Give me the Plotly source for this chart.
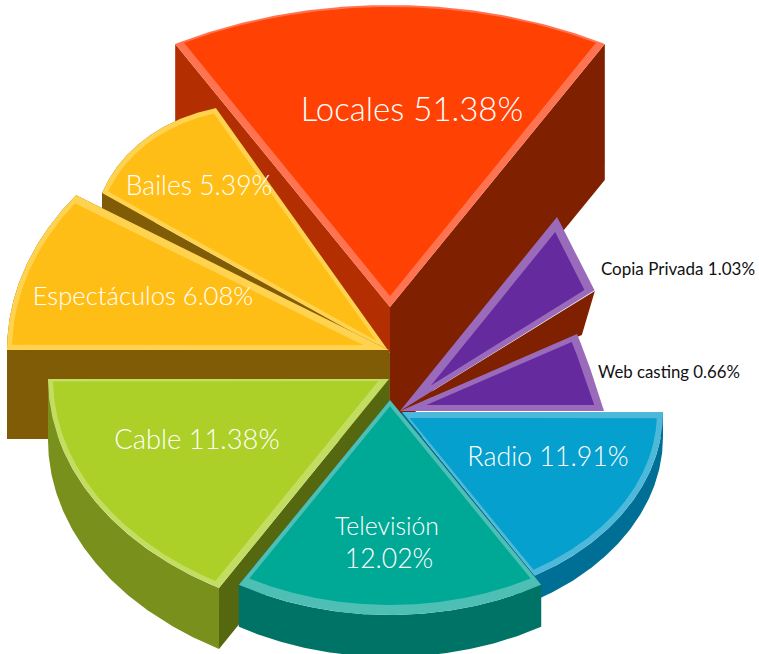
import math
import plotly.graph_objects as go

# ---- chart data ----
categories = ["Locales", "Copia Privada", "Web casting", "Bailes", "Espectáculos",
              "Cable", "Radio", "Televisión"]
shares = [51.38, 1.03, 0.66, 5.39, 6.08, 11.38, 11.91, 12.02]

# ---- the drawing's own wedge layout (the artwork is not drawn to scale, so
#      sweep angles are read from the picture rather than derived from shares) ----
apex_x = [390, 400, 400, 390, 389, 389, 402, 390]
apex_y = [307, 411, 411, 353, 350, 379, 412, 400]
radius_x = [437, 215, 204, 349.4, 382, 341, 261, 296]
radius_y = [302, 284, 155, 282.5, 270, 241, 190, 215]
angle_start = [60.56, 25.0, 0.0, 119.9, 145.0, 180.0, -59.4, 239.3]
angle_end = [119.44, 43.1, 29.8, 145.5, 180.0, 240.1, 0.0, 300.7]
arc_bulge = [1.0, 0.15, 0.15, 2.3, 1.0, 1.0, 1.0, 1.0]
depth = [136, 0, 0, 90, 89, 61, 25, 42]
# inset of the pale rim: edge at angle_start, edge at angle_end, arc
rim_start = [7, 5.5, 6, 4, 7, 2, 2, 4]
rim_end = [7, 8, 5, 4, 5, 7, 6, 4]
rim_arc = [2, 9, 8, 5, 5, 5, 6, 10]

top_colors = ["#FF4103", "#662A9F", "#662A9F", "#FFBE16", "#FFBE16", "#ACD027", "#05A0CD", "#00A896"]
rim_colors = ["#FF7350", "#9A6BBB", "#9A6BBB", "#FFD24F", "#FFD24F", "#C3DD62", "#4DB8DA", "#4DBFB4"]
side_start = ["#7F2000", None, None, "#7F5C05", "#7F5C05", "#7F5C05", "#006F95", "#007367"]
side_end = ["#B32E00", None, None, "#7F5C05", "#7F5C05", "#55680F", "#006F95", "#007367"]
side_arc = [None, None, None, "#7F5C05", "#7F5C05", "#7A901C", "#006F95", "#007367"]

label_x = [412, 678, 669, 199, 143, 197, 548, 387]
label_y = [113, 271, 374, 188, 299, 442, 459, 529]
label_size = [33, 17, 16.8, 26.5, 25.6, 27.3, 26.8, 26.5]
label_weight = [300, 400, 400, 300, 300, 300, 300, 300]
label_color = ["white", "#111111", "#111111", "white", "white", "white", "white", "white"]
two_line_label = "Televisión"
two_line_gap = 32
two_line_name_size = 24.8
FONT = "Lato"
PURPLE_BACK = "#7F2000"

fig = go.Figure()


def add_poly(xs, ys, color):
    fig.add_trace(go.Scatter(x=list(xs) + [xs[0]], y=list(ys) + [ys[0]], mode="lines",
                             fill="toself", fillcolor=color, line=dict(width=0, color=color),
                             hoverinfo="skip", showlegend=False))


def arc(i, da=0.0, n=120):
    def ell(t):
        return (apex_x[i] + (radius_x[i] - da) * math.cos(t),
                apex_y[i] - (radius_y[i] - da) * math.sin(t))
    t0, t1 = math.radians(angle_start[i]), math.radians(angle_end[i])
    a, b = ell(t0), ell(t1)
    pts = []
    for k in range(n + 1):
        s = k / n
        e = ell(t0 + (t1 - t0) * s)
        cx, cy = a[0] + (b[0] - a[0]) * s, a[1] + (b[1] - a[1]) * s
        pts.append((cx + (e[0] - cx) * arc_bulge[i], cy + (e[1] - cy) * arc_bulge[i]))
    return pts


def inner_polygon(i):
    ax, ay = apex_x[i], apex_y[i]
    outer = arc(i)
    p0, p1 = outer[0], outer[-1]

    def unit(p):
        dx, dy = p[0] - ax, p[1] - ay
        L = math.hypot(dx, dy)
        return dx / L, dy / L

    u0, u1 = unit(p0), unit(p1)
    mid = outer[len(outer) // 2]

    def inward(u):
        n = (-u[1], u[0])
        if n[0] * (mid[0] - ax) + n[1] * (mid[1] - ay) < 0:
            n = (-n[0], -n[1])
        return n

    n0, n1 = inward(u0), inward(u1)
    d0, d1 = rim_start[i], rim_end[i]
    det = n0[0] * n1[1] - n0[1] * n1[0]
    px = (d0 * n1[1] - d1 * n0[1]) / det
    py = (n0[0] * d1 - n1[0] * d0) / det
    keep = []
    for q in arc(i, rim_arc[i], 400):
        qx, qy = q[0] - ax, q[1] - ay
        if qx * n0[0] + qy * n0[1] >= d0 and qx * n1[0] + qy * n1[1] >= d1:
            keep.append(q)
    pts = [(ax + px, ay + py)] + keep
    return [p[0] for p in pts], [p[1] for p in pts]


def draw_sides(i):
    d = depth[i]
    if not d:
        return
    ax, ay = apex_x[i], apex_y[i]
    pts = arc(i)
    for end, col in ((pts[0], side_start[i]), (pts[-1], side_end[i])):
        if col:
            add_poly([ax, end[0], end[0], ax], [ay, end[1], end[1] + d, ay + d], col)
    if side_arc[i]:
        xs = [p[0] for p in pts] + [p[0] for p in reversed(pts)]
        ys = [p[1] for p in pts] + [p[1] + d for p in reversed(pts)]
        add_poly(xs, ys, side_arc[i])


def draw_top(i):
    pts = arc(i)
    add_poly([apex_x[i]] + [p[0] for p in pts], [apex_y[i]] + [p[1] for p in pts], rim_colors[i])
    xs, ys = inner_polygon(i)
    add_poly(xs, ys, top_colors[i])


def add_label(x, y, text, size, color, weight):
    fig.add_trace(go.Scatter(x=[x], y=[y], mode="text", text=[text], textposition="middle center",
                             textfont=dict(family=FONT, size=size, color=color, weight=weight),
                             hoverinfo="skip", showlegend=False))


# Dark wall that shows between the two purple wedges
c = arc(1)[0]
draw_sides(0)
draw_top(0)
add_poly([apex_x[1], c[0], c[0] - 13], [apex_y[1], c[1], c[1] + 44], PURPLE_BACK)
for i in range(1, len(categories)):
    draw_sides(i)
    draw_top(i)

for i, (cat, share) in enumerate(zip(categories, shares)):
    if cat == two_line_label:
        add_label(label_x[i], label_y[i], cat, two_line_name_size, label_color[i], label_weight[i])
        add_label(label_x[i] + 2, label_y[i] + two_line_gap, f"{share:.2f}%", label_size[i],
                  label_color[i], label_weight[i])
    else:
        add_label(label_x[i], label_y[i], f"{cat} {share:.2f}%", label_size[i], label_color[i],
                  label_weight[i])

fig.update_xaxes(range=[0, 759], visible=False, fixedrange=True)
fig.update_yaxes(range=[654, 0], visible=False, fixedrange=True)
fig.update_layout(width=759, height=654, margin=dict(l=0, r=0, t=0, b=0),
                  paper_bgcolor="white", plot_bgcolor="white", showlegend=False)
fig.write_html("out.html", config=dict(displayModeBar=False),
               post_script="document.body.style.margin='0';")
